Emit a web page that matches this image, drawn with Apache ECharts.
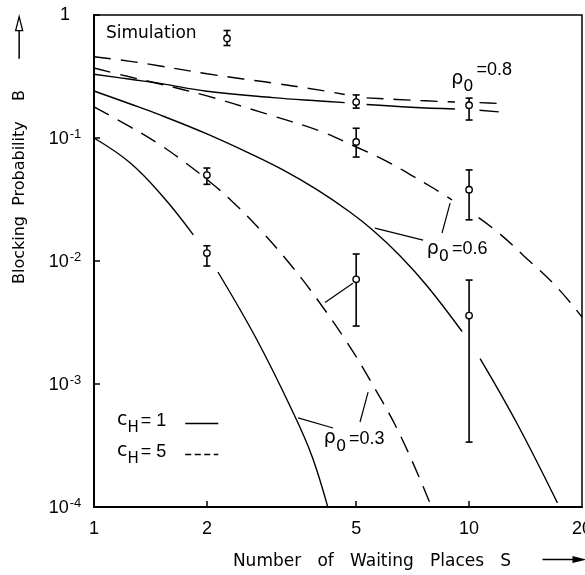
<!DOCTYPE html>
<html>
<head>
<meta charset="utf-8">
<title>Blocking Probability</title>
<script src="https://cdn.jsdelivr.net/npm/echarts@6/dist/echarts.min.js"></script>
<style>
    html, body { margin: 0; padding: 0; background: #fff; }
    #myChart { width: 585px; height: 575px; }
</style>
</head>
<body>
<div id="myChart"></div>
<script>
    // curves: [S, B], null = gap in the drawn line
    var rho08_cH5 = [[1, 0.458], [1.25, 0.42], [1.5, 0.385], [2, 0.333], [2.5, 0.302], [3, 0.28], [4, 0.245],
        [4.66, 0.226], [5, null], [5.33, 0.212], [7, 0.203], [9.17, 0.196], [10, null], [10.66, 0.194], [12, 0.191]];
    var rho08_cH1 = [[1, 0.33], [1.25, 0.3], [1.5, 0.278], [2, 0.24], [3, 0.213], [4, 0.2],
        [4.66, 0.194], [5, null], [5.33, 0.187], [7, 0.178], [9.17, 0.172], [10, null], [10.66, 0.168], [12, 0.163]];
    var rho06_cH5 = [[1, 0.371], [1.25, 0.313], [1.5, 0.275], [2, 0.22], [2.77, 0.163], [3, 0.151], [4, 0.114],
        [5, 0.0845], [6, 0.0652], [7, 0.05], [8, 0.0394], [9, 0.0314], [10, null], [10.6, 0.0225], [12, 0.0169],
        [14, 0.011], [17, 0.0063], [20, 0.0035]];
    var rho06_cH1 = [[1, 0.241], [1.25, 0.189], [1.5, 0.154], [2, 0.108], [2.6, 0.075], [3.19, 0.055], [3.93, 0.038],
        [4.81, 0.025], [5.55, 0.0177], [6.55, 0.011], [7.73, 0.00626], [9.58, 0.00267], [10, null], [10.7, 0.00161],
        [13.4, 0.000482], [17.2, 0.000108]];
    var rho03_cH5 = [[1, 0.179], [1.25, 0.123], [1.5, 0.0881], [1.69, 0.0683], [2, 0.046], [2.31, 0.0315],
        [2.77, 0.018], [3.33, 0.00946], [3.93, 0.00491], [4.73, 0.00217], [5.44, 0.00108], [6.55, 0.000385],
        [7.92, 0.000102]];
    var rho03_cH1 = [[1, 0.1], [1.25, 0.0626], [1.53, 0.0331], [1.84, 0.0163], [2, null], [2.14, 0.00814],
        [2.72, 0.00228], [3.37, 0.000615], [3.81, 0.00026], [4.2, 0.0001]];

    // simulation points with confidence intervals
    var errS = [2, 2, 5, 5, 5, 10, 10, 10];
    var errMid = [0.05, 0.0116, 0.196, 0.093, 0.0071, 0.185, 0.038, 0.0036];
    var errLow = [0.042, 0.0091, 0.175, 0.07, 0.00296, 0.14, 0.0216, 0.000337];
    var errHigh = [0.057, 0.0133, 0.224, 0.12, 0.0114, 0.211, 0.055, 0.007];

    var xTicks = [1, 2, 5, 10, 20];

    var textFont = "'DejaVu Sans', sans-serif";
    var numFont = "'Liberation Sans Narrow', 'Liberation Sans', sans-serif";

    function curve(name, data, dashed) {
        return {
            name: name,
            type: 'line',
            data: data,
            symbol: 'none',
            showSymbol: false,
            smooth: 0.4,
            connectNulls: false,
            silent: true,
            color: '#000',
            lineStyle: {color: '#000', width: 1.4, type: dashed ? [17, 10] : 'solid'},
            z: 2
        };
    }

    function rhoLabel(val, raise) {
        return '{r|ρ}{s|0}{' + (raise ? 'u' : 'e') + '|=' + val + '}';
    }

    var noSymbol = {color: 'rgba(0,0,0,0)', borderColor: 'rgba(0,0,0,0)', borderWidth: 0};

    let myChart = echarts.init(document.getElementById('myChart'));

    myChart.setOption({
        animation: false,
        backgroundColor: '#fff',
        grid: {
            left: 94, right: 3, top: 15, bottom: 68,
            show: true, borderColor: '#000', borderWidth: 1.5,
            outerBoundsMode: 'none'
        },
        legend: {
            orient: 'vertical',
            left: 112, top: 406,
            align: 'right',
            itemWidth: 33, itemHeight: 12, itemGap: 6,
            selectedMode: false,
            data: [
                {name: 'cH1', itemStyle: noSymbol, lineStyle: {type: 'solid', width: 1.4}},
                {name: 'cH5', itemStyle: noSymbol, lineStyle: {type: [6, 3.5], width: 1.4}}
            ],
            formatter: function (name) {
                return '{c|c}{h|H}{e|= ' + (name === 'cH1' ? '1' : '5') + '}';
            },
            textStyle: {
                color: '#000',
                rich: {
                    c: {color: '#000', fontFamily: textFont, fontSize: 19, verticalAlign: 'bottom', padding: [0, 0, 6, 0]},
                    h: {color: '#000', fontFamily: textFont, fontSize: 15, verticalAlign: 'bottom'},
                    e: {color: '#000', fontFamily: numFont, fontSize: 18, verticalAlign: 'bottom', padding: [0, 14, 6, 2]}
                }
            }
        },
        xAxis: {
            type: 'log',
            logBase: 10,
            min: 1,
            max: 20,
            name: 'Number   of   Waiting   Places   S',
            nameLocation: 'middle',
            nameGap: 46,
            nameTextStyle: {fontFamily: textFont, fontSize: 17, color: '#000', padding: [0, 0, 0, 68]},
            axisLine: {lineStyle: {color: '#000', width: 2}},
            axisTick: {inside: true, length: 6, lineStyle: {color: '#000', width: 1.5}, customValues: [2, 5, 10]},
            axisLabel: {
                customValues: xTicks,
                margin: 13,
                fontFamily: numFont, fontSize: 18, color: '#000',
                formatter: function (v) { return String(v); }
            },
            splitLine: {show: false},
            minorTick: {show: false}
        },
        yAxis: {
            type: 'log',
            logBase: 10,
            min: 0.0001,
            max: 1,
            name: 'Blocking  Probability    B',
            nameLocation: 'middle',
            nameRotate: 90,
            nameGap: 66,
            nameTextStyle: {fontFamily: textFont, fontSize: 16, color: '#000', padding: [0, 0, 0, 148]},
            axisLine: {lineStyle: {color: '#000', width: 2}},
            axisTick: {inside: true, length: 6, lineStyle: {color: '#000', width: 1.5}},
            axisLabel: {
                align: 'center',
                margin: 29,
                color: '#000',
                formatter: function (v) {
                    var p = Math.round(Math.log10(v));
                    return p === 0 ? '{b|1}' : '{b|10}{sup|' + p + '}';
                },
                rich: {
                    b: {color: '#000', fontFamily: numFont, fontSize: 18, verticalAlign: 'bottom'},
                    sup: {color: '#000', fontFamily: numFont, fontSize: 13, verticalAlign: 'bottom', padding: [0, 0, 8, 1]}
                }
            },
            splitLine: {show: false},
            minorTick: {show: false}
        },
        series: [
            curve('cH5', rho08_cH5, true),
            curve('cH1', rho08_cH1, false),
            curve('cH5', rho06_cH5, true),
            curve('cH1', rho06_cH1, false),
            curve('cH5', rho03_cH5, true),
            curve('cH1', rho03_cH1, false),
            {
                name: 'Simulation',
                type: 'custom',
                silent: true,
                z: 5,
                encode: {x: 0, y: [1, 2, 3]},
                data: errS.map(function (s, i) { return [s, errMid[i], errLow[i], errHigh[i]]; }),
                renderItem: function (params, api) {
                    var mid = api.coord([api.value(0), api.value(1)]);
                    var lo = api.coord([api.value(0), api.value(2)]);
                    var hi = api.coord([api.value(0), api.value(3)]);
                    var w = 3.5;
                    var st = {stroke: '#000', lineWidth: 1.6, fill: null};
                    return {
                        type: 'group',
                        children: [
                            {type: 'line', shape: {x1: mid[0], y1: hi[1], x2: mid[0], y2: lo[1]}, style: st},
                            {type: 'line', shape: {x1: mid[0] - w, y1: hi[1], x2: mid[0] + w, y2: hi[1]}, style: st},
                            {type: 'line', shape: {x1: mid[0] - w, y1: lo[1], x2: mid[0] + w, y2: lo[1]}, style: st},
                            {type: 'circle', shape: {cx: mid[0], cy: mid[1], r: 3.2},
                                style: {fill: '#fff', stroke: '#000', lineWidth: 1.4}}
                        ]
                    };
                }
            },
            {
                // curve labels and the short pointer strokes
                name: 'labels',
                type: 'scatter',
                silent: true,
                symbolSize: 1,
                itemStyle: {color: 'rgba(0,0,0,0)', opacity: 1},
                z: 6,
                label: {
                    show: true,
                    position: 'inside',
                    color: '#000',
                    opacity: 1,
                    textBorderWidth: 0,
                    formatter: function (p) { return p.data.text; },
                    rich: {
                        r: {color: '#000', fontFamily: textFont, fontSize: 19, verticalAlign: 'bottom', padding: [0, 0, 7, 0]},
                        s: {color: '#000', fontFamily: textFont, fontSize: 16, verticalAlign: 'bottom'},
                        e: {color: '#000', fontFamily: numFont, fontSize: 18, verticalAlign: 'bottom', padding: [0, 0, 7, 3]},
                        u: {color: '#000', fontFamily: numFont, fontSize: 18, verticalAlign: 'bottom', padding: [0, 0, 16, 3]}
                    }
                },
                data: [
                    {value: [10.8, 0.307], text: rhoLabel('0.8', true)},
                    {value: [9.29, 0.0118], text: rhoLabel('0.6', false)},
                    {value: [4.94, 0.00034], text: rhoLabel('0.3', false)}
                ],
                markLine: {
                    silent: true,
                    animation: false,
                    symbol: ['none', 'none'],
                    label: {show: false},
                    lineStyle: {color: '#000', width: 1.2, type: 'solid', opacity: 1},
                    data: [
                        [{coord: [7.54, 0.0148]}, {coord: [5.61, 0.0185]}],
                        [{coord: [8.47, 0.0169]}, {coord: [8.9, 0.0296]}],
                        [{coord: [4.34, 0.000439]}, {coord: [3.5, 0.00053]}],
                        [{coord: [5.12, 0.000491]}, {coord: [5.38, 0.00086]}],
                        [{coord: [4.9, 0.0066]}, {coord: [4.13, 0.0046]}]
                    ]
                }
            }
        ],
        graphic: [
            {
                type: 'text', left: 106, top: 25,
                style: {text: 'Simulation', font: '17px ' + textFont, fill: '#000'}
            },
            {
                // simulation key symbol
                type: 'group', left: 221, top: 28,
                children: [
                    {type: 'line', shape: {x1: 4, y1: 0, x2: 4, y2: 15}, style: {stroke: '#000', lineWidth: 1.6}},
                    {type: 'line', shape: {x1: 0.5, y1: 0, x2: 7.5, y2: 0}, style: {stroke: '#000', lineWidth: 1.6}},
                    {type: 'line', shape: {x1: 0.5, y1: 15, x2: 7.5, y2: 15}, style: {stroke: '#000', lineWidth: 1.6}},
                    {type: 'circle', shape: {cx: 4, cy: 8, r: 3.2}, style: {fill: '#fff', stroke: '#000', lineWidth: 1.4}}
                ]
            },
            {
                type: 'group', left: 540, top: 556,
                children: [
                    {type: 'line', shape: {x1: 0, y1: 5, x2: 32, y2: 5}, style: {stroke: '#000', lineWidth: 1.5}},
                    {type: 'polygon', shape: {points: [[30, 1.5], [44, 5], [30, 8.5]]}, style: {fill: '#000'}}
                ]
            },
            {
                type: 'group', left: 15, top: 16,
                children: [
                    {type: 'line', shape: {x1: 5, y1: 13, x2: 5, y2: 42}, style: {stroke: '#000', lineWidth: 1.5}},
                    {type: 'polygon', shape: {points: [[1.5, 14], [5, 0], [8.5, 14]]},
                        style: {fill: '#fff', stroke: '#000', lineWidth: 1.3}}
                ]
            }
        ]
    });
</script>
</body>
</html>
